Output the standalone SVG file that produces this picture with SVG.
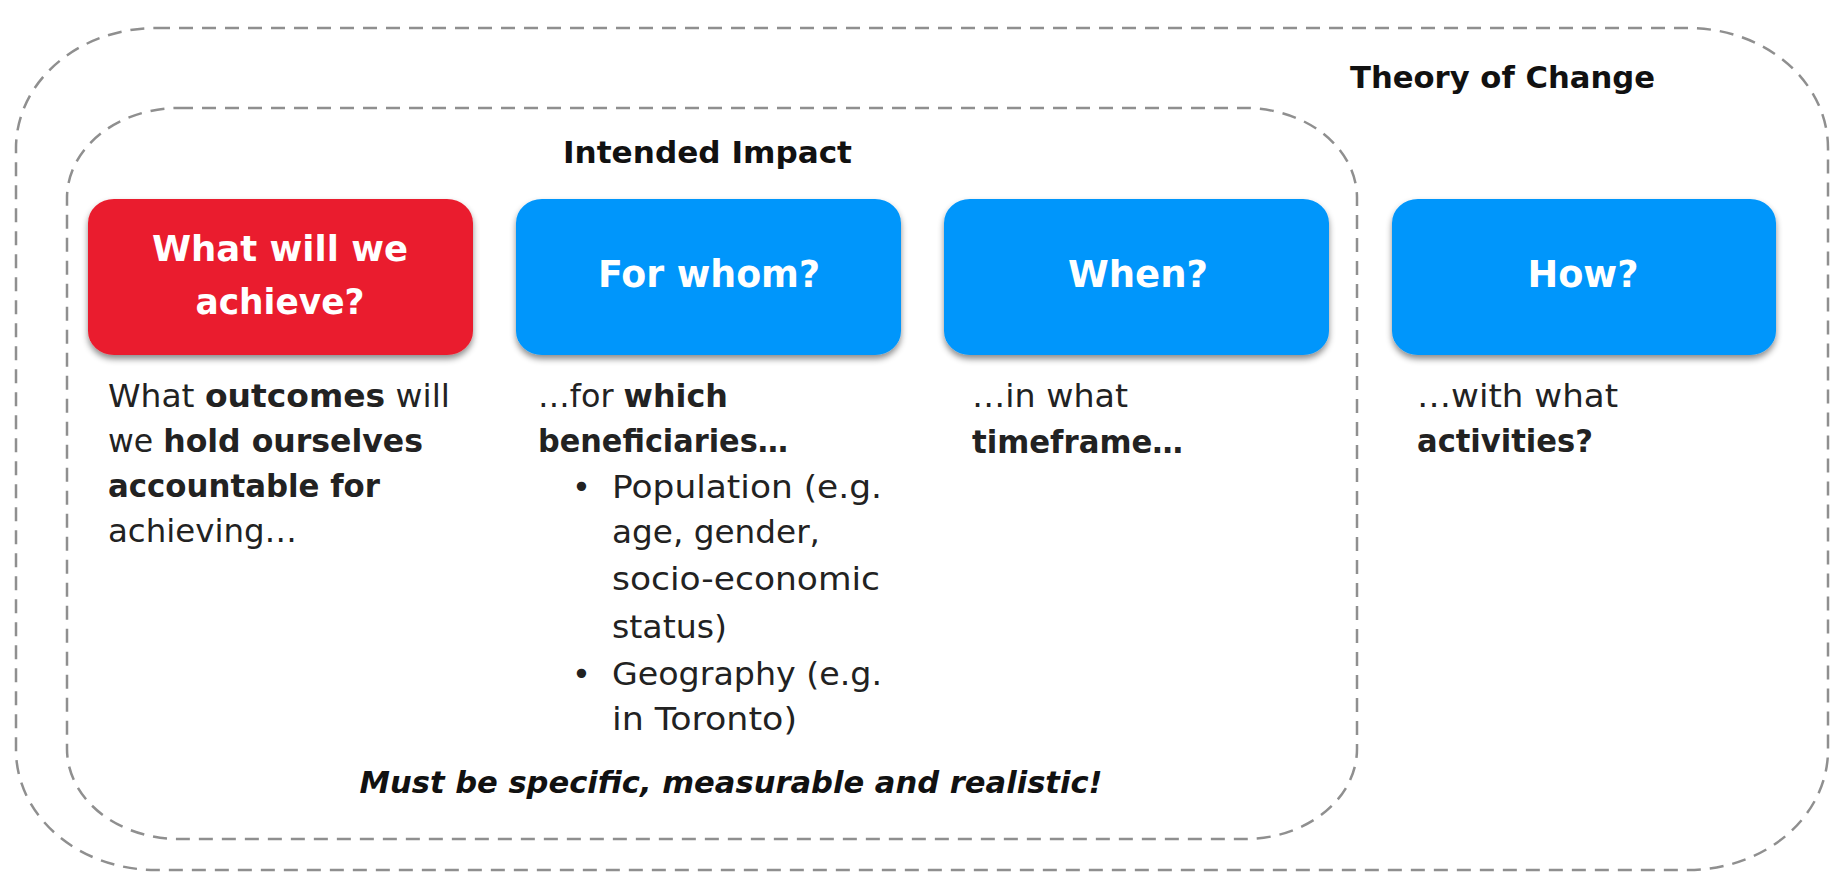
<svg xmlns="http://www.w3.org/2000/svg" width="1831" height="873" viewBox="0 0 1831 873">
  <style>
    .frame { fill: none; stroke: #8f8f8f; stroke-width: 2.5; stroke-dasharray: 14 9; }
    .box-red { fill: #EA1D2E; }
    .box-blue { fill: #0096FB; }
    .btxt { font-family: "DejaVu Sans", "Liberation Sans", sans-serif; font-weight: bold; fill: #ffffff; text-anchor: middle; }
    .title { font-family: "DejaVu Sans", "Liberation Sans", sans-serif; font-weight: bold; font-size: 31px; fill: #111111; }
    .body { font-family: "DejaVu Sans", "Liberation Sans", sans-serif; font-size: 32px; fill: #222222; }
    .b { font-weight: bold; }
    .note { font-family: "DejaVu Sans", "Liberation Sans", sans-serif; font-weight: bold; font-style: italic; font-size: 31px; fill: #111111; text-anchor: middle; }
  </style>
  <defs>
    <filter id="shadow" x="-10%" y="-10%" width="120%" height="130%">
      <feDropShadow dx="0" dy="4" stdDeviation="3" flood-color="#000000" flood-opacity="0.45"/>
    </filter>
  </defs>

  <rect width="1831" height="873" fill="#ffffff"/>

  <!-- enclosing frames -->
  <g id="theory-of-change">
    <rect class="frame" x="16" y="28" width="1812" height="842" rx="140" ry="120"/>
    <text class="title" x="1350" y="88" textLength="305" lengthAdjust="spacingAndGlyphs">Theory of Change</text>
  </g>
  <g id="intended-impact">
    <rect class="frame" x="67" y="108" width="1290" height="731" rx="112" ry="90"/>
    <text class="title" x="563" y="163" textLength="289" lengthAdjust="spacingAndGlyphs">Intended Impact</text>
    <text class="note" x="731" y="793" textLength="743" lengthAdjust="spacingAndGlyphs">Must be specific, measurable and realistic!</text>
  </g>

  <!-- question: what -->
  <g id="what">
    <rect class="box-red" x="88" y="199" width="385" height="156" rx="26" ry="24" filter="url(#shadow)"/>
    <text class="btxt" x="280" y="261" font-size="35.5" textLength="256" lengthAdjust="spacingAndGlyphs">What will we</text>
    <text class="btxt" x="280" y="314" font-size="35.5" textLength="169" lengthAdjust="spacingAndGlyphs">achieve?</text>
    <text class="body" x="108" y="407" textLength="342" lengthAdjust="spacingAndGlyphs">What <tspan class="b">outcomes</tspan> will</text>
    <text class="body" x="108" y="452" textLength="315" lengthAdjust="spacingAndGlyphs">we <tspan class="b">hold ourselves</tspan></text>
    <text class="body b" x="108" y="497" textLength="272" lengthAdjust="spacingAndGlyphs">accountable for</text>
    <text class="body" x="108" y="542" textLength="189" lengthAdjust="spacingAndGlyphs">achieving…</text>
  </g>

  <!-- question: for whom -->
  <g id="for-whom">
    <rect class="box-blue" x="516" y="199" width="385" height="156" rx="26" ry="24" filter="url(#shadow)"/>
    <text class="btxt" x="709" y="287" font-size="37" textLength="222" lengthAdjust="spacingAndGlyphs">For whom?</text>
    <text class="body" x="538" y="407" textLength="190" lengthAdjust="spacingAndGlyphs">…for <tspan class="b">which</tspan></text>
    <text class="body b" x="538" y="452" textLength="250" lengthAdjust="spacingAndGlyphs">beneficiaries…</text>
    <text class="body" x="572" y="498">•</text>
    <text class="body" x="612" y="498" textLength="270" lengthAdjust="spacingAndGlyphs">Population (e.g.</text>
    <text class="body" x="612" y="543" textLength="208" lengthAdjust="spacingAndGlyphs">age, gender,</text>
    <text class="body" x="612" y="590" textLength="268" lengthAdjust="spacingAndGlyphs">socio-economic</text>
    <text class="body" x="612" y="638" textLength="115" lengthAdjust="spacingAndGlyphs">status)</text>
    <text class="body" x="572" y="685">•</text>
    <text class="body" x="612" y="685" textLength="270" lengthAdjust="spacingAndGlyphs">Geography (e.g.</text>
    <text class="body" x="612" y="730" textLength="185" lengthAdjust="spacingAndGlyphs">in Toronto)</text>
  </g>

  <!-- question: when -->
  <g id="when">
    <rect class="box-blue" x="944" y="199" width="385" height="156" rx="26" ry="24" filter="url(#shadow)"/>
    <text class="btxt" x="1138" y="287" font-size="38" textLength="140" lengthAdjust="spacingAndGlyphs">When?</text>
    <text class="body" x="972" y="407" textLength="156" lengthAdjust="spacingAndGlyphs">…in what</text>
    <text class="body b" x="972" y="453" textLength="211" lengthAdjust="spacingAndGlyphs">timeframe…</text>
  </g>

  <!-- question: how -->
  <g id="how">
    <rect class="box-blue" x="1392" y="199" width="384" height="156" rx="26" ry="24" filter="url(#shadow)"/>
    <text class="btxt" x="1583" y="287" font-size="38" textLength="111" lengthAdjust="spacingAndGlyphs">How?</text>
    <text class="body" x="1417" y="407" textLength="201" lengthAdjust="spacingAndGlyphs">…with what</text>
    <text class="body b" x="1417" y="452" textLength="176" lengthAdjust="spacingAndGlyphs">activities?</text>
  </g>

  <g id="connectors"/>
</svg>
